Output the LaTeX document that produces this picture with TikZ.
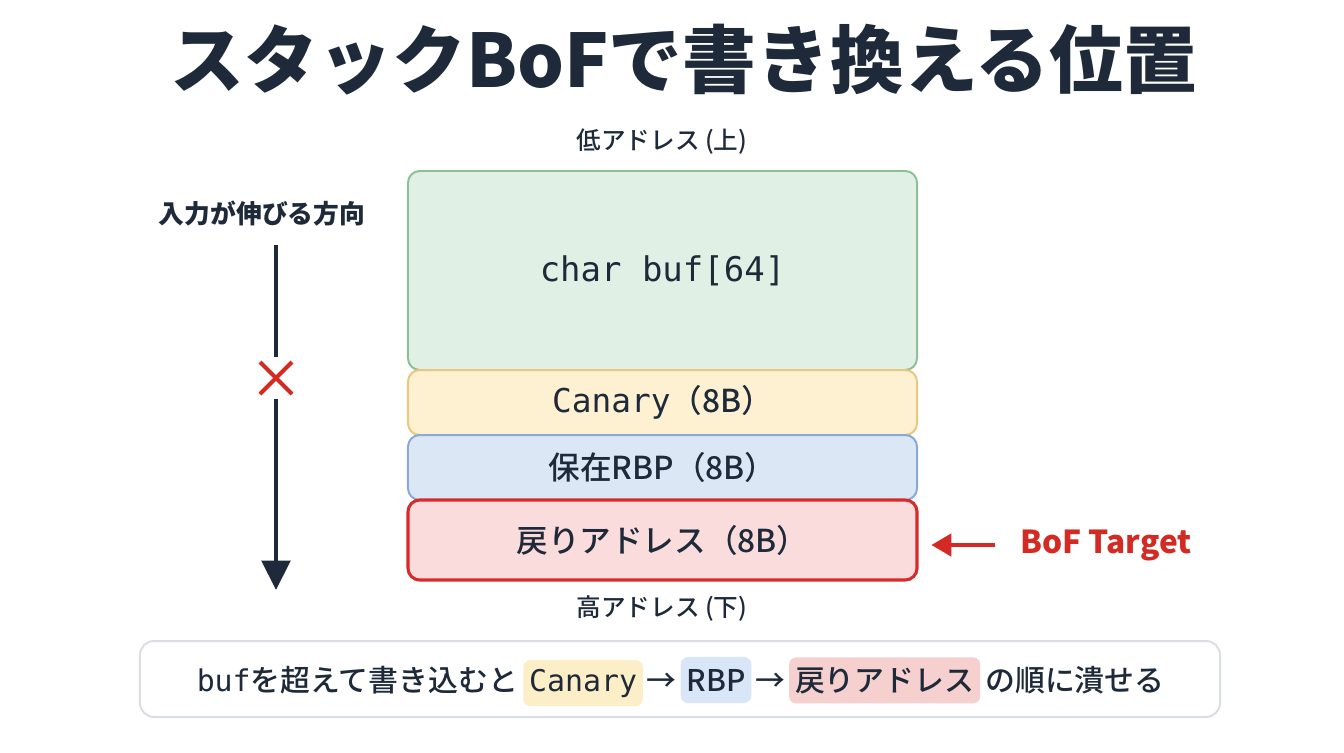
\documentclass[tikz,border=0pt]{standalone}
\usepackage{fontspec}
\setmainfont{Noto Sans CJK JP}
\setmonofont{DejaVu Sans Mono}
\newfontfamily\jpmed{Noto Sans CJK JP Medium}
\usetikzlibrary{arrows.meta,positioning}

\definecolor{ink}{HTML}{1E2A3A}
\definecolor{hot}{HTML}{D42A24}
\definecolor{bufbg}{HTML}{E1F0E4}
\definecolor{bufline}{HTML}{8DBF98}
\definecolor{canbg}{HTML}{FDF1D2}
\definecolor{canline}{HTML}{E8C77E}
\definecolor{rbpbg}{HTML}{DCE7F6}
\definecolor{rbpline}{HTML}{8AA9D6}
\definecolor{retbg}{HTML}{F9DCDB}
\definecolor{retline}{HTML}{D72B2B}
\definecolor{noteline}{HTML}{DADEE3}
\definecolor{hlyel}{HTML}{FCEFC8}
\definecolor{hlblue}{HTML}{D8E6F8}
\definecolor{hlred}{HTML}{F6CFCF}

\begin{document}
\begin{tikzpicture}[
  x=0.03cm,y=-0.03cm,
  slot/.style={draw,rounded corners=10pt,minimum width=15.27cm,line width=1.7pt,text=ink,font=\jpmed\fontsize{27}{32}\selectfont},
  flowline/.style={ink,line width=4.25pt},
  crossline/.style={hot,line width=3.4pt},
  hotarrow/.style={-{Triangle[length=17pt,width=19pt]},hot,line width=3.4pt},
  notetext/.style={text=ink,inner xsep=3pt,font=\jpmed\fontsize{25.5}{30}\selectfont},
  hlbox/.style={rounded corners=6pt,inner xsep=5pt,minimum height=1.38cm}
]
\useasboundingbox (0,0) rectangle (1344,752);

\node[font=\bfseries\fontsize{63}{70}\selectfont,text=ink] (title) at (684,60) {スタックBoFで書き換える位置};

% stack frame
\node[font=\jpmed\fontsize{21}{24}\selectfont,text=ink] (lowaddr) at (662,142) {低アドレス (上)};
\node[slot,fill=bufbg,draw=bufline,minimum height=5.97cm,font=\ttfamily\fontsize{29}{34}\selectfont] (buf) at (662.5,270.5) {char buf[64]};
\node[slot,fill=canbg,draw=canline,minimum height=1.95cm] (canary) at (662.5,402.5) {{\ttfamily\fontsize{28}{32}\selectfont Canary}（8B）};
\node[slot,fill=rbpbg,draw=rbpline,minimum height=1.95cm] (rbp) at (662.5,467.5) {保在RBP（8B）};
\node[slot,fill=retbg,draw=retline,line width=2.6pt,minimum height=2.4cm] (ret) at (662.5,540) {戻りアドレス（8B）};
\node[font=\jpmed\fontsize{21}{24}\selectfont,text=ink] (highaddr) at (662,609) {高アドレス (下)};

% direction of the overflow
\node[font=\bfseries\fontsize{22}{26}\selectfont,text=ink] (dir) at (262,214) {入力が伸びる方向};
\coordinate (dirtop) at (276,245);
\coordinate (dirend) at (276,590);
\node[minimum size=1.23cm,inner sep=0] (cross) at (276,378) {};
\draw[flowline] (dirtop) -- (cross.north);
\draw[flowline,-{Triangle[length=25pt,width=24pt]}] (cross.south) -- (dirend);
\draw[crossline] (260,362) -- (292,394) (260,394) -- (292,362);

% target
\node[font=\bfseries\fontsize{27}{32}\selectfont,text=hot,anchor=west,inner sep=0] (target) at (1020,545) {BoF Target};
\draw[hotarrow,shorten <=21pt,shorten >=11pt] (target.west) -- (ret.east |- target.west);

% summary
\node[draw=noteline,line width=1.7pt,rounded corners=12pt,fill=white,minimum width=32.4cm,minimum height=2.28cm] (note) at (680,679) {};
\node[notetext,anchor=base west] (n1) at (193,691) {\texttt{buf}を超えて書き込むと};
\node[notetext,hlbox,fill=hlyel,base right=1pt of n1] (hlcan) {\texttt{Canary}};
\node[notetext,base right=0pt of hlcan] (n2) {→};
\node[notetext,hlbox,fill=hlblue,base right=0pt of n2] (hlrbp) {RBP};
\node[notetext,base right=0pt of hlrbp] (n3) {→};
\node[notetext,hlbox,fill=hlred,base right=0pt of n3] (hlret) {戻りアドレス};
\node[notetext,base right=1pt of hlret] (n4) {の順に潰せる};
\end{tikzpicture}
\end{document}
